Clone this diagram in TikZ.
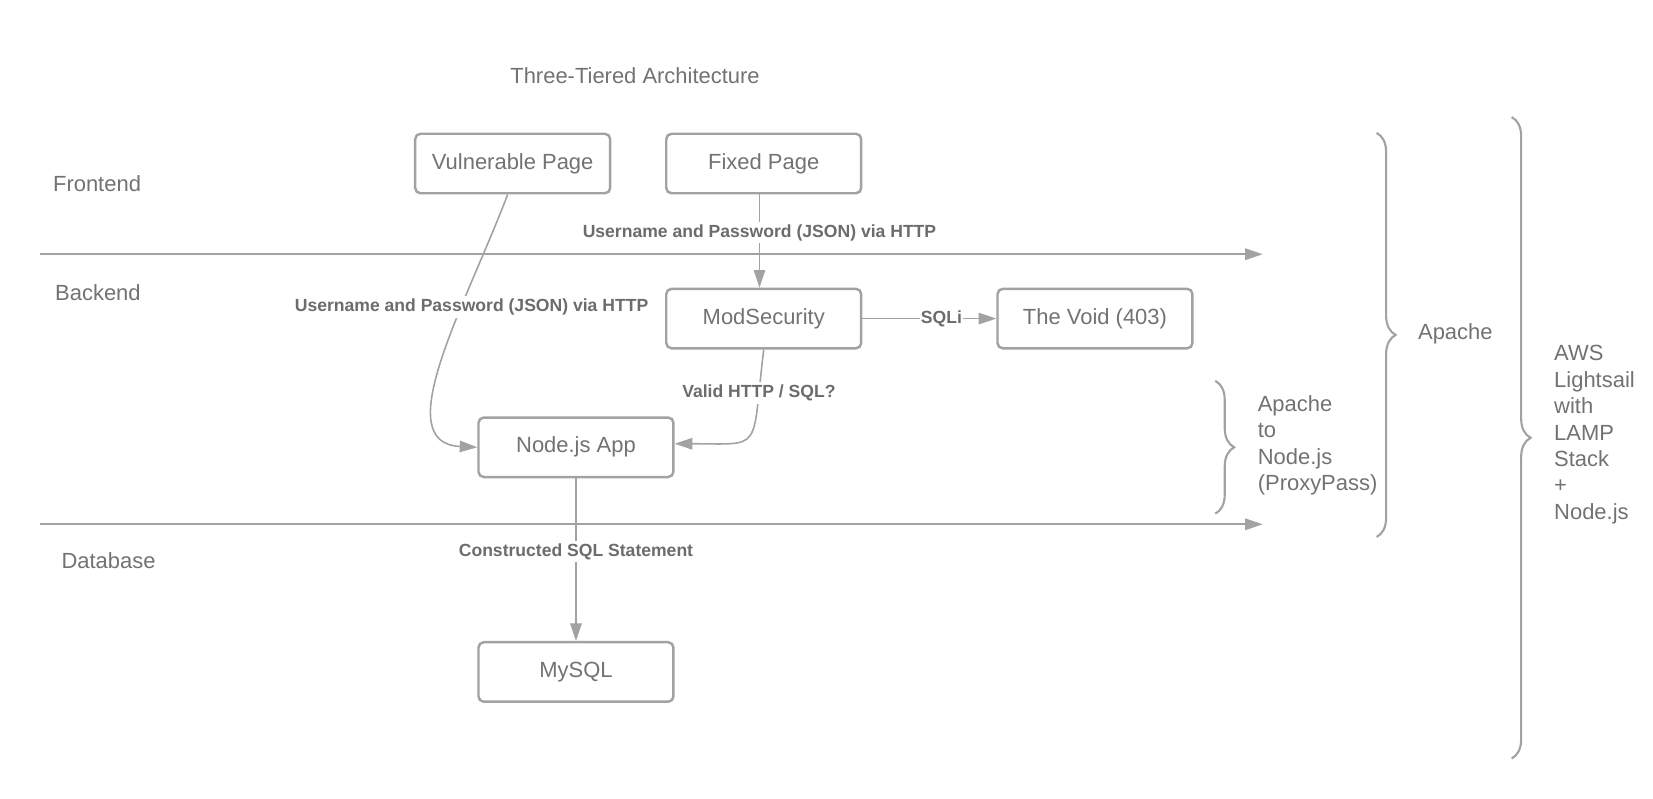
\documentclass[tikz,border=0pt]{standalone}
\usepackage{fontspec}
\setmainfont{Liberation Sans}
\usetikzlibrary{arrows.meta,decorations.pathreplacing}
\definecolor{linegray}{HTML}{A2A2A2}
\definecolor{textgray}{HTML}{727272}
\definecolor{labelgray}{HTML}{6C6C6C}

\begin{document}
\begin{tikzpicture}[x=0.0211cm, y=-0.0211cm,
  box/.style={draw=linegray, line width=1.4pt, rounded corners=3pt, minimum width=3.9cm, minimum height=1.19cm, text=textgray, font=\fontsize{12.5}{15}\selectfont},
  txt/.style={text=textgray, font=\fontsize{12.5}{15}\selectfont, inner sep=0pt, align=left},
  flow/.style={draw=linegray, line width=0.9pt, -{Triangle[length=10pt, width=6.5pt]}},
  lbl/.style={fill=white, text=labelgray, font=\fontsize{10}{12}\selectfont\bfseries, inner sep=1.5pt},
  curly/.style={draw=linegray, line width=1.2pt, decorate, decoration={brace, amplitude=0.38cm}}]
\useasboundingbox (0,0) rectangle (1567,757);
% title and tiers
\node[txt] (title) at (602,72) {Three-Tiered Architecture};
\node[txt, anchor=west] (front) at (50,174) {Frontend};
\node[txt, anchor=west] (back) at (52,277) {Backend};
\node[txt, anchor=west] (data) at (58,531) {Database};
\coordinate (fb0) at (38,241);
\coordinate (fb1) at (1197,241);
\coordinate (bd0) at (38,497);
\coordinate (bd1) at (1197,497);
\draw[flow, line width=1.1pt] (fb0) -- (fb1);
\draw[flow, line width=1.1pt] (bd0) -- (bd1);
% boxes
\node[box] (vuln) at (486,155) {Vulnerable Page};
\node[box] (fixed) at (724,155) {Fixed Page};
\node[box] (modsec) at (724,302) {ModSecurity};
\node[box] (void) at (1038,302) {The Void (403)};
\node[box] (nodeapp) at (546,424) {Node.js App};
\node[box] (mysql) at (546,637) {MySQL};
% connectors
\draw[flow] ([xshift=-0.085cm]fixed.south) -- node[lbl, pos=0.41] {Username and Password (JSON) via HTTP} ([xshift=-0.085cm]modsec.north);
\draw[flow] ([xshift=-0.1cm]vuln.south) .. controls +(-40,105) and +(-85,-4) .. node[lbl, pos=0.33, xshift=0.2cm] {Username and Password (JSON) via HTTP} (nodeapp.west);
\draw[flow] (modsec.east) -- node[lbl, pos=0.59, inner sep=0.5pt] {SQLi} (void.west);
\draw[flow] (modsec.south) .. controls +(-12,98) and +(85,0) .. node[lbl, pos=0.17] {Valid HTTP / SQL?} ([yshift=2pt]nodeapp.east);
\draw[flow] (nodeapp.south) -- node[lbl, pos=0.45] {Constructed SQL Statement} (mysql.north);
% braces
\coordinate (px0) at (1152,361);
\coordinate (px1) at (1152,487);
\coordinate (ap0) at (1305,126);
\coordinate (ap1) at (1305,509);
\coordinate (aw0) at (1433,111);
\coordinate (aw1) at (1433,719);
\draw[curly] (px0) -- (px1);
\draw[curly] (ap0) -- (ap1);
\draw[curly] (aw0) -- (aw1);
\node[txt, anchor=west] (proxy) at (1192,422) {Apache\\to\\Node.js\\(ProxyPass)};
\node[txt, anchor=west] (apache) at (1344,316) {Apache};
\node[txt, anchor=west] (aws) at (1473,412) {AWS\\Lightsail\\with\\LAMP\\Stack\\+\\Node.js};
\end{tikzpicture}
\end{document}
